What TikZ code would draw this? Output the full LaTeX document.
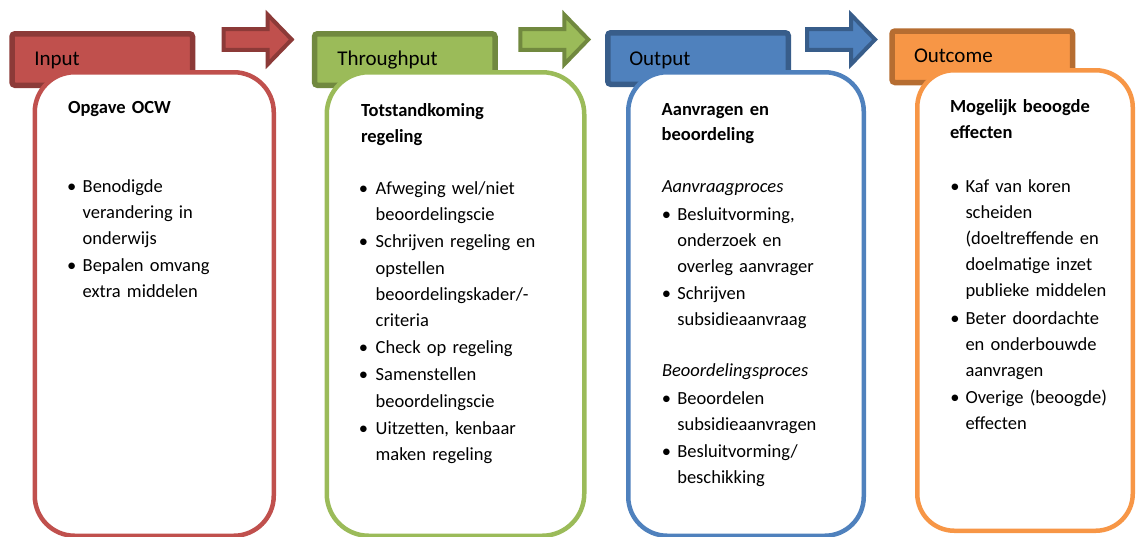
\documentclass[tikz,border=0pt]{standalone}
\usepackage{fontspec}
\setmainfont{Carlito}
\definecolor{redF}{HTML}{C0504D}
\definecolor{redD}{HTML}{8C3A38}
\definecolor{greenF}{HTML}{9BBB59}
\definecolor{greenD}{HTML}{71893F}
\definecolor{blueF}{HTML}{4F81BD}
\definecolor{blueD}{HTML}{385D8A}
\definecolor{orangeF}{HTML}{F79646}
\definecolor{orangeD}{HTML}{B66D31}
\newcommand\bl[1][11]{\leavevmode\llap{\makebox[0pt]{\textbullet}\hspace{#1pt}}\ignorespaces}
\begin{document}
\begin{tikzpicture}[x=1pt,y=-1pt,
  tabbox/.style 2 args={draw=#2, fill=#1, line width=5.5pt, rounded corners=3pt,
    minimum width=180.5pt, minimum height=51.5pt, anchor=north west, inner sep=0pt, outer sep=0pt},
  tablabel/.style={anchor=base west, inner sep=0pt, outer sep=0pt, font=\fontsize{21}{25}\selectfont},
  panel/.style={draw=#1, fill=white, line width=4.5pt, anchor=north west, inner sep=0pt, outer sep=0pt},
  head/.style={anchor=base west, inner sep=0pt, outer sep=0pt, text width=200pt, align=left,
    font=\fontsize{18.5}{25.5}\selectfont\bfseries},
  body/.style={anchor=base west, inner sep=0pt, outer sep=0pt, text width=200pt, align=left,
    font=\fontsize{18.5}{26.2}\selectfont},
  flowarrow/.pic={\path[pic actions] (0,-10.3) -- (44,-10.3) -- (44,-24.8) -- (68,0)
    -- (44,24.8) -- (44,10.3) -- (0,10.3) -- cycle;}
]
\useasboundingbox (0,0) rectangle (1137,536);
\clip (0,0) rectangle (1137,536);

% tabs
\node[tabbox={redF}{redD}] (tab1) at (12,33.75) {};
\node[tabbox={greenF}{greenD}] (tab2) at (314.5,33.75) {};
\node[tabbox={blueF}{blueD}] (tab3) at (607.75,32.75) {};
\node[tabbox={orangeF}{orangeD}] (tab4) at (892,31) {};
\node[tablabel] (lab1) at (34.3,65.7) {Input};
\node[tablabel] (lab2) at (337.3,65.7) {Throughput};
\node[tablabel] (lab3) at (629.3,65) {Output};
\node[tablabel] (lab4) at (914,62.7) {Outcome};

% arrows
\pic[draw=redD, fill=redF, line width=4pt, line join=miter] at (223.7,39.5) {flowarrow};
\pic[draw=greenD, fill=greenF, line width=4pt, line join=miter] at (520.3,39.5) {flowarrow};
\pic[draw=blueD, fill=blueF, line width=4pt, line join=miter] at (807,39.5) {flowarrow};

% panels
\node[panel=redF, minimum width=239pt, minimum height=463.5pt, rounded corners=40pt] (box1) at (34.75,72.25) {};
\node[panel=greenF, minimum width=257.5pt, minimum height=463.5pt, rounded corners=42pt] (box2) at (326.75,72.25) {};
\node[panel=blueF, minimum width=235.5pt, minimum height=463.5pt, rounded corners=39pt] (box3) at (628.25,72.25) {};
\node[panel=orangeF, minimum width=215.5pt, minimum height=460.5pt, rounded corners=37pt] (box4) at (917.25,70.25) {};

% box 1
\node[head] (h1) at (68,113.3) {Opgave OCW};
\node[body] (l1) at (82.7,192) {\bl Benodigde\\ verandering in\\ onderwijs\\[1pt]
  \bl Bepalen omvang\\ extra middelen};

% box 2
\node[head] (h2) at (361,116.5) {Totstandkoming\\ regeling};
\node[body] (l2) at (375.7,194.5) {\bl[12.3]Afweging wel/niet\\ beoordelingscie\\[1pt]
  \bl[12.3]Schrijven regeling en\\ opstellen\\ beoordelingskader/-\\ criteria\\[1pt]
  \bl[12.3]Check op regeling\\[1pt]
  \bl[12.3]Samenstellen\\ beoordelingscie\\[1pt]
  \bl[12.3]Uitzetten, kenbaar\\ maken regeling};

% box 3
\node[head] (h3) at (661.7,115) {Aanvragen en\\ beoordeling};
\node[body] (s3a) at (662,192) {\itshape Aanvraagproces};
\node[body] (l3a) at (677.3,220) {\bl[10.8]Besluitvorming,\\ onderzoek en\\ overleg aanvrager\\[1pt]
  \bl[10.8]Schrijven\\ subsidieaanvraag};
\node[body] (s3b) at (662,376.5) {\itshape Beoordelingsproces};
\node[body] (l3b) at (677.3,404) {\bl[10.8]Beoordelen\\ subsidieaanvragen\\[1pt]
  \bl[10.8]Besluitvorming/\\ beschikking};

% box 4
\node[head] (h4) at (950,112.7) {Mogelijk beoogde\\ effecten};
\node[body] (l4) at (965.5,192) {\bl[10.5]Kaf van koren\\ scheiden\\ (doeltreffende en\\ doelmatige inzet\\ publieke middelen\\[1pt]
  \bl[10.5]Beter doordachte\\ en onderbouwde\\ aanvragen\\[1pt]
  \bl[10.5]Overige (beoogde)\\ effecten};
\end{tikzpicture}
\end{document}
